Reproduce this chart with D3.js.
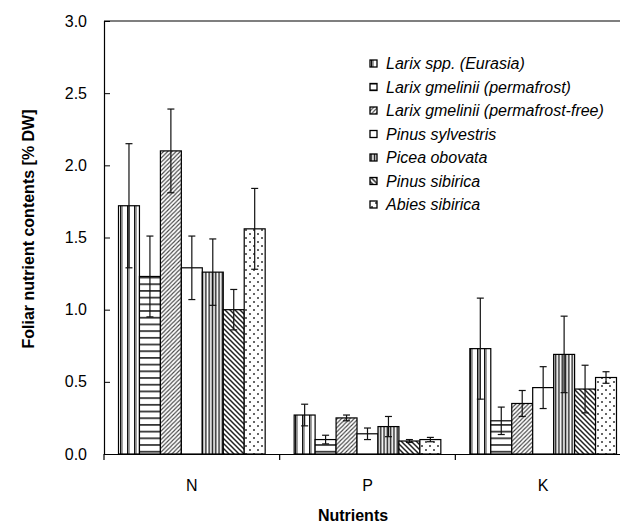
<!DOCTYPE html>
<html lang="en">
  <head>
    <meta charset="utf-8">
    <title>Foliar nutrients</title>
    <script src="https://d3js.org/d3.v7.min.js"></script>
    <style>
      body { margin: 0; background: white; }
      text { font-family: Arial, "Liberation Sans", sans-serif; }
    </style>
  </head>
  <body>
    <script type="text/javascript">

      var w = 620;
      var h = 524;
      var margin = {top: 21, left: 104, bottom: 70};

      var nutrients = ["N", "P", "K"];
      var species = ["Larix spp. (Eurasia)", "Larix gmelinii (permafrost)",
                     "Larix gmelinii (permafrost-free)", "Pinus sylvestris",
                     "Picea obovata", "Pinus sibirica", "Abies sibirica"];
      // mean per species, order N, P, K
      var means = [[1.72, 0.27, 0.73],
                   [1.23, 0.10, 0.23],
                   [2.10, 0.25, 0.35],
                   [1.29, 0.14, 0.46],
                   [1.26, 0.19, 0.69],
                   [1.00, 0.09, 0.45],
                   [1.56, 0.10, 0.53]];
      var errors = [[0.43, 0.075, 0.35],
                    [0.28, 0.03, 0.095],
                    [0.29, 0.02, 0.09],
                    [0.22, 0.04, 0.145],
                    [0.23, 0.07, 0.265],
                    [0.14, 0.01, 0.165],
                    [0.28, 0.015, 0.04]];
      var yTicks = [0, 0.5, 1.0, 1.5, 2.0, 2.5, 3.0];

      var svg = d3.select("body")
          .append("svg")
          .attr("width", w)
          .attr("height", h);

      svg.append("rect")
          .attr("width", w)
          .attr("height", h)
          .attr("fill", "white");

      // hatch patterns, one per species
      var defs = svg.append("defs");
      function pat(id, pw, ph) {
        return defs.append("pattern")
            .attr("id", id)
            .attr("patternUnits", "userSpaceOnUse")
            .attr("width", pw)
            .attr("height", ph);
      }
      var p0 = pat("p0", 7, 7);
      p0.append("rect").attr("width", 7).attr("height", 7).attr("fill", "white");
      p0.append("rect").attr("x", 1).attr("width", 1.5).attr("height", 7).attr("fill", "#111");
      p0.append("rect").attr("x", 3).attr("width", 0.8).attr("height", 7).attr("fill", "#888");

      var p1 = pat("p1", 7, 6.7);
      p1.append("rect").attr("width", 7).attr("height", 6.7).attr("fill", "white");
      p1.append("rect").attr("y", 2).attr("width", 7).attr("height", 1.6).attr("fill", "#222");

      var p2 = pat("p2", 4.2, 4.2);
      p2.append("rect").attr("width", 4.2).attr("height", 4.2).attr("fill", "white");
      p2.append("path").attr("d", "M-1,5.2 L5.2,-1 M-1,1 L1,-1 M3.2,5.2 L5.2,3.2")
          .attr("stroke", "#444").attr("stroke-width", 1.1);

      var p4 = pat("p4", 3.3, 4);
      p4.append("rect").attr("width", 3.3).attr("height", 4).attr("fill", "white");
      p4.append("rect").attr("x", 0.5).attr("width", 1.5).attr("height", 4).attr("fill", "#222");

      var p5 = pat("p5", 5, 5);
      p5.append("rect").attr("width", 5).attr("height", 5).attr("fill", "white");
      p5.append("path").attr("d", "M-1,-1 L6,6 M-1,4 L1,6 M4,-1 L6,1")
          .attr("stroke", "#222").attr("stroke-width", 1.5);

      var p6 = pat("p6", 8, 8);
      p6.append("rect").attr("width", 8).attr("height", 8).attr("fill", "white");
      p6.append("circle").attr("cx", 2).attr("cy", 2).attr("r", 1).attr("fill", "#333");
      p6.append("circle").attr("cx", 6).attr("cy", 6).attr("r", 1).attr("fill", "#333");

      var fills = ["url(#p0)", "url(#p1)", "url(#p2)", "white", "url(#p4)", "url(#p5)", "url(#p6)"];

      var xScale = d3.scaleBand()
          .domain(nutrients)
          .range([margin.left, 631]);
      var bw = xScale.bandwidth();
      var xInner = d3.scaleBand()
          .domain(d3.range(species.length))
          .range([14.5, bw - 14.5]);
      var yScale = d3.scaleLinear()
          .domain([0, 3])
          .range([h - margin.bottom, margin.top]);

      var rows = [];
      species.forEach(function(s, i) {
        nutrients.forEach(function(n, j) {
          rows.push({s: i, n: n, v: means[i][j], e: errors[i][j]});
        });
      });

      // bars
      svg.append("g")
          .selectAll("rect")
          .data(rows)
          .enter().append("rect")
          .attr("x", function(d) { return xScale(d.n) + xInner(d.s) })
          .attr("y", function(d) { return yScale(d.v) })
          .attr("width", xInner.bandwidth())
          .attr("height", function(d) { return yScale(0) - yScale(d.v) })
          .attr("fill", function(d) { return fills[d.s] })
          .attr("stroke", "black")
          .attr("stroke-width", 1.2);

      // error bars
      var eb = svg.append("g")
          .attr("stroke", "#111")
          .attr("stroke-width", 1.2)
          .selectAll("g")
          .data(rows)
          .enter().append("g")
          .attr("transform", function(d) {
            return `translate(${xScale(d.n) + xInner(d.s) + xInner.bandwidth() / 2}, 0)` });
      eb.append("line")
          .attr("y1", function(d) { return yScale(d.v + d.e) })
          .attr("y2", function(d) { return yScale(d.v - d.e) });
      eb.append("line")
          .attr("x1", -3.5).attr("x2", 3.5)
          .attr("y1", function(d) { return yScale(d.v + d.e) })
          .attr("y2", function(d) { return yScale(d.v + d.e) });
      eb.append("line")
          .attr("x1", -3.5).attr("x2", 3.5)
          .attr("y1", function(d) { return yScale(d.v - d.e) })
          .attr("y2", function(d) { return yScale(d.v - d.e) });

      // frame top
      svg.append("line")
          .attr("x1", margin.left).attr("x2", 631)
          .attr("y1", yScale(3)).attr("y2", yScale(3))
          .attr("stroke", "black").attr("stroke-width", 1.2);

      var yAxis = d3.axisLeft(yScale)
          .tickValues(yTicks)
          .tickFormat(d3.format(".1f"))
          .tickSize(-6)
          .tickPadding(17);
      var gy = svg.append("g")
          .attr("transform", `translate(${margin.left}, 0)`)
          .call(yAxis);
      gy.select(".domain").attr("stroke-width", 1.2);
      gy.selectAll("text").attr("font-size", 16).attr("font-family", "Arial, 'Liberation Sans', sans-serif").attr("fill", "black");

      var xAxis = d3.axisBottom(xScale)
          .tickSize(0)
          .tickPadding(26);
      var gx = svg.append("g")
          .attr("transform", `translate(0, ${yScale(0)})`)
          .call(xAxis);
      gx.select(".domain").attr("stroke-width", 1.2);
      gx.selectAll("text").attr("font-size", 16).attr("font-family", "Arial, 'Liberation Sans', sans-serif").attr("fill", "black");

      // boundary ticks between categories
      gx.selectAll(".bound")
          .data(nutrients)
          .enter().append("line")
          .attr("class", "bound")
          .attr("x1", function(d) { return xScale(d) })
          .attr("x2", function(d) { return xScale(d) })
          .attr("y1", 0).attr("y2", 6)
          .attr("stroke", "black").attr("stroke-width", 1.2);

      // axis titles
      svg.append("text")
          .attr("transform", "translate(34, 229) rotate(-90)")
          .attr("text-anchor", "middle")
          .attr("font-size", 16)
          .attr("font-weight", "bold")
          .text("Foliar nutrient contents [% DW]");
      svg.append("text")
          .attr("x", 353).attr("y", 521)
          .attr("text-anchor", "middle")
          .attr("font-size", 16)
          .attr("font-weight", "bold")
          .text("Nutrients");

      // legend
      var leg = svg.append("g")
          .selectAll("g")
          .data(species)
          .enter().append("g")
          .attr("transform", function(d, i) { return `translate(370, ${64 + i * 23.5})` });
      leg.append("rect")
          .attr("x", 0).attr("y", -4)
          .attr("width", 7).attr("height", 7)
          .attr("fill", function(d, i) { return fills[i] })
          .attr("stroke", "black")
          .attr("stroke-width", 1.3);
      leg.append("text")
          .attr("x", 16).attr("y", 5)
          .attr("font-size", 16)
          .attr("font-style", "italic")
          .text(function(d) { return d });

    </script>
  </body>
</html>
